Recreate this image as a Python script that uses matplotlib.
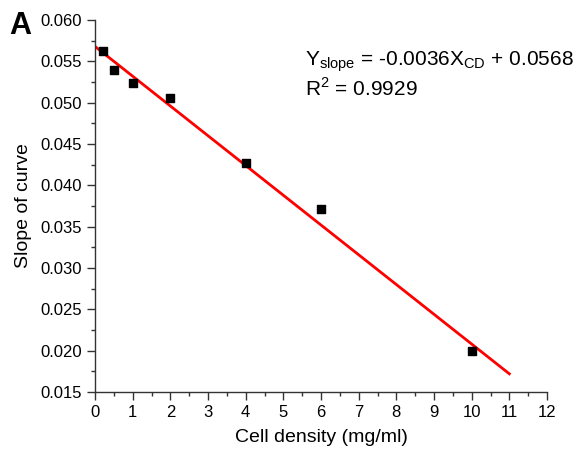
import matplotlib
matplotlib.use("Agg")
import matplotlib.pyplot as plt
from matplotlib.ticker import MultipleLocator
import numpy as np

plt.rcParams['font.family'] = ['Liberation Sans', 'DejaVu Sans']

cell_density = [0.2, 0.5, 1, 2, 4, 6, 10]
slope_values = [0.0563, 0.0540, 0.0524, 0.0506, 0.0427, 0.0371, 0.0199]
fit_slope = -0.0036
fit_intercept = 0.0568
fit_x = [0, 11]

fig = plt.figure(figsize=(5.78, 4.51), dpi=100)
ax = fig.add_axes([95/578, 1-392/451, (547-95)/578, (392-20)/451])

fx = np.array(fit_x, dtype=float)
ax.plot(fx, fit_slope*fx + fit_intercept, color='#ff0000', lw=2, zorder=2)
ax.scatter(cell_density, slope_values, marker='s', s=28, color='black', zorder=3, clip_on=False)

ax.set_xlim(0, 12)
ax.set_ylim(0.015, 0.060)
ax.xaxis.set_major_locator(MultipleLocator(1))
ax.xaxis.set_minor_locator(MultipleLocator(0.5))
ax.yaxis.set_major_locator(MultipleLocator(0.005))
ax.yaxis.set_minor_locator(MultipleLocator(0.0025))
ax.yaxis.set_major_formatter(matplotlib.ticker.FormatStrFormatter('%.3f'))
for s in ['top', 'right']:
    ax.spines[s].set_visible(False)
for s in ['left', 'bottom']:
    ax.spines[s].set_color('#333333')
    ax.spines[s].set_linewidth(1.0)
ax.tick_params(which='major', direction='out', length=6, width=1, labelsize=12, color='#333333')
ax.tick_params(which='minor', direction='out', length=3, width=1, color='#333333')
ax.set_xlabel('Cell density (mg/ml)', fontsize=14, labelpad=6)
ax.set_ylabel('Slope of curve', fontsize=14, labelpad=6)

fig.text(305/578, 1-62/451, r'Y$_{\mathregular{slope}}$ = -0.0036X$_{\mathregular{CD}}$ + 0.0568',
         fontsize=15, va='center', ha='left')
fig.text(305/578, 1-88/451, r'R$^{\mathregular{2}}$ = 0.9929', fontsize=15, va='center', ha='left')
fig.text(9/578, 1-26/451, 'A', fontsize=22, fontweight='bold', va='center', ha='left')

fig.savefig('out.png', dpi=100, facecolor='white')
